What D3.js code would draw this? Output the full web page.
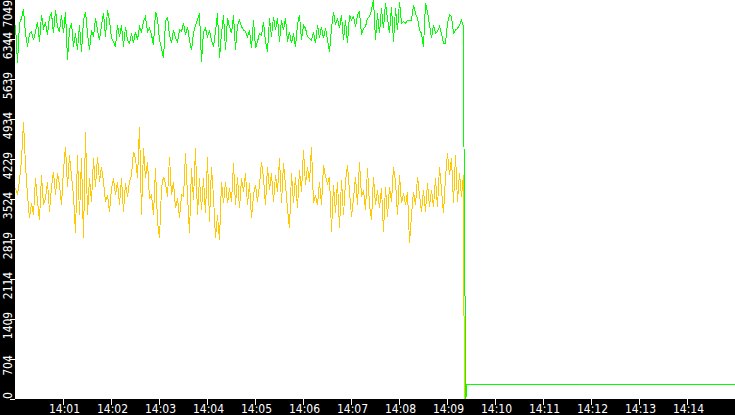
<!DOCTYPE html>
<html>
<head>
<meta charset="utf-8">
<script src="https://cdn.jsdelivr.net/npm/d3@7"></script>
<style>
  body { margin: 0; background: #000; }
  svg { display: block; }
  .lbl { font-family: "Liberation Sans Narrow", "DejaVu Sans Condensed", sans-serif; font-size: 12px; fill: #fff; }
</style>
</head>
<body>
<div id="chart"></div>
<script>
// samples every 2.5 s starting 14:00:00
const sampleStep = 2.5;

const greenValues = [
  6600, 5924, 6629, 6718, 6876, 6453, 6218, 6453, 6483, 6336, 6483, 6659, 6306, 6776, 6541, 6629,
  6424, 6747, 6806, 6453, 6864, 6571, 6483, 6776, 6453, 6835, 5983, 6512, 6629, 6218, 6453, 6159,
  6600, 6130, 6688, 6835, 6453, 6159, 6512, 6394, 6718, 6512, 6336, 6600, 6806, 6394, 6864, 6688,
  6365, 6306, 6218, 6600, 6394, 6600, 6218, 6571, 6336, 6277, 6453, 6277, 6483, 6336, 6571, 6483,
  6659, 6747, 6483, 6541, 6424, 6248, 6835, 6718, 6336, 6189, 6013, 6659, 6747, 6424, 6277, 6512,
  6365, 6306, 6512, 6483, 6629, 6424, 6571, 6336, 6159, 6453, 6600, 6688, 6806, 5954, 6483, 6541,
  6394, 6512, 6336, 6218, 6483, 6806, 6013, 6453, 6776, 6159, 6718, 6571, 6453, 6776, 6159, 6600,
  6688, 6571, 6512, 6483, 6394, 6512, 6189, 6688, 6189, 6306, 6453, 6424, 6659, 6306, 6130, 6718,
  6394, 6747, 6512, 6718, 6306, 6688, 6512, 6718, 6306, 6483, 6277, 6453, 6218, 6600, 6776, 6336,
  6600, 6541, 6394, 6365, 6336, 6483, 6277, 6600, 6365, 6571, 6365, 6541, 6336, 6130, 6541, 6835,
  6600, 6718, 6541, 6776, 6336, 6688, 6277, 6776, 6688, 6747, 6571, 6776, 6835, 6424, 6541, 6571,
  6718, 6747, 6864, 7041, 6336, 6806, 6453, 6894, 6541, 6982, 6718, 6453, 6923, 6306, 6894, 6512,
  7011, 6629, 6659, 6629, 6688, 6688, 6688, 6953, 6806, 6718, 6512, 6453, 6218, 6982, 6835, 6600,
  6365, 6600, 6453, 6483, 6571, 6453, 6277, 6277, 6629, 6776, 6747, 6453, 6512, 6541, 6600, 6688,
  6571
];

const yellowValues = [
  3721, 3604, 3868, 4221, 4897, 4133, 3604, 3193, 3457, 3251, 3898, 3486, 3163, 3956, 3428, 3545,
  3839, 3310, 3751, 4015, 3604, 3986, 3780, 3428, 4045, 4456, 3751, 4309, 3927, 3604, 2928, 4309,
  3251, 4250, 2840, 4720, 3251, 3898, 3486, 4250, 3751, 4280, 3839, 4103, 3839, 3486, 3604, 3310,
  3721, 3898, 3604, 3839, 3428, 3898, 3310, 3810, 3575, 3839, 3956, 4368, 4250, 3898, 4808, 3251,
  4426, 3898, 4191, 3545, 3604, 3251, 4074, 3134, 2840, 3721, 3927, 3810, 3575, 4280, 3604, 3839,
  3369, 3545, 3193, 3604, 3575, 4338, 3604, 2928, 4074, 3516, 4426, 3251, 3898, 3340, 3898, 3281,
  4280, 3134, 4103, 3575, 2840, 3251, 2811, 3839, 3457, 3839, 3457, 3721, 3486, 4162, 3428, 3927,
  3369, 3898, 3663, 3986, 3428, 3810, 3193, 3604, 3780, 3486, 3780, 4191, 3898, 3428, 4103, 3692,
  3986, 3486, 3956, 3663, 4250, 3457, 4162, 3780, 3369, 3016, 3986, 3457, 3927, 3369, 4045, 3663,
  4397, 3780, 4103, 3839, 4456, 3457, 3604, 3428, 3839, 3428, 4133, 3927, 3810, 3927, 2958, 3780,
  3281, 3839, 3016, 3868, 3251, 3839, 4133, 3663, 3222, 3545, 3927, 3428, 4191, 3575, 3692, 3340,
  4074, 3428, 3163, 3927, 3428, 3692, 3369, 3721, 2958, 3751, 3222, 3751, 3486, 4103, 3839, 3251,
  3956, 3457, 3633, 3428, 3663, 2752, 3251, 3663, 3428, 3927, 3604, 3310, 3692, 3310, 3810, 3398,
  3692, 3398, 3898, 3398, 4103, 3692, 3281, 3927, 4338, 3956, 4250, 3457, 4309, 3486, 3986, 3575,
  3956
];

// points after the drop: [seconds after 14:00, value]
const greenTail = [[561, 3220], [562, 1650], [563, 0], [564, 264], [900, 264]];
const yellowTail = [[561, 0], [900, 0]];

const yTickCount = 10;
const yMax = 7049.5;

const width = 735;
const height = 415;
const plotLeft = 15;
const plotBottom = 399;

const t0 = new Date(2024, 0, 1, 14, 0, 0);
const secs = s => new Date(t0.getTime() + s * 1000);

function buildSeries(values, tail) {
  const pts = values.map((v, i) => ({ t: secs(i * sampleStep), v: v }));
  tail.forEach(d => pts.push({ t: secs(d[0]), v: d[1] }));
  return pts;
}

const svg = d3.select('#chart')
  .append('svg')
  .attr('width', width)
  .attr('height', height);

svg.append('rect')
  .attr('width', width)
  .attr('height', height)
  .attr('fill', '#000');

svg.append('rect')
  .attr('x', plotLeft)
  .attr('y', 0)
  .attr('width', width - plotLeft)
  .attr('height', plotBottom)
  .attr('fill', '#fff');

const x = d3.scaleTime()
  .domain([t0, secs(900)])
  .range([plotLeft + 0.5, width + 0.5]);

const y = d3.scaleLinear()
  .domain([0, yMax])
  .range([plotBottom + 0.5, -0.5]);

svg.append('clipPath')
  .attr('id', 'plot-clip')
  .append('rect')
  .attr('x', plotLeft)
  .attr('y', 0)
  .attr('width', width - plotLeft)
  .attr('height', plotBottom);

const line = d3.line()
  .x(d => x(d.t))
  .y(d => y(d.v));

const plot = svg.append('g').attr('clip-path', 'url(#plot-clip)');

plot.append('path')
  .datum(buildSeries(greenValues, greenTail))
  .attr('d', line)
  .attr('fill', 'none')
  .attr('stroke', '#00ff00')
  .attr('stroke-width', 1)
  .attr('shape-rendering', 'crispEdges');

plot.append('path')
  .datum(buildSeries(yellowValues, yellowTail))
  .attr('d', line)
  .attr('fill', 'none')
  .attr('stroke', '#ffc800')
  .attr('stroke-width', 1)
  .attr('shape-rendering', 'crispEdges');

// x axis: one tick per minute, labels under the plot
const xTicks = x.ticks(d3.timeMinute.every(1)).filter(d => d > t0 && d < secs(900));
const fmt = d3.timeFormat('%H:%M');

const xg = svg.append('g');
xg.selectAll('line')
  .data(xTicks)
  .enter().append('line')
  .attr('x1', d => Math.floor(x(d)) + 0.5)
  .attr('x2', d => Math.floor(x(d)) + 0.5)
  .attr('y1', plotBottom)
  .attr('y2', plotBottom + 6)
  .attr('stroke', '#fff')
  .attr('shape-rendering', 'crispEdges');

xg.selectAll('text')
  .data(xTicks)
  .enter().append('text')
  .attr('class', 'lbl')
  .attr('x', d => x(d) + 1)
  .attr('y', 413)
  .attr('text-anchor', 'middle')
  .text(fmt);

// y axis: rotated labels on the black strip
const yTicks = d3.range(yTickCount + 1).map(i => i * yMax / yTickCount);

const yg = svg.append('g');
yg.selectAll('line')
  .data(yTicks)
  .enter().append('line')
  .attr('x1', 10)
  .attr('x2', plotLeft)
  .attr('y1', d => Math.floor(y(d)) + 0.5)
  .attr('y2', d => Math.floor(y(d)) + 0.5)
  .attr('stroke', '#fff')
  .attr('shape-rendering', 'crispEdges');

yg.selectAll('text')
  .data(yTicks)
  .enter().append('text')
  .attr('class', 'lbl')
  .attr('text-anchor', 'middle')
  .text(d => Math.floor(d))
  .attr('transform', function(d) {
    const half = this.getComputedTextLength() / 2;
    let c = y(d) + 6;
    c = Math.min(c, plotBottom - half);
    c = Math.max(c, half);
    return 'translate(12,' + c + ') rotate(-90)';
  });
</script>
</body>
</html>
